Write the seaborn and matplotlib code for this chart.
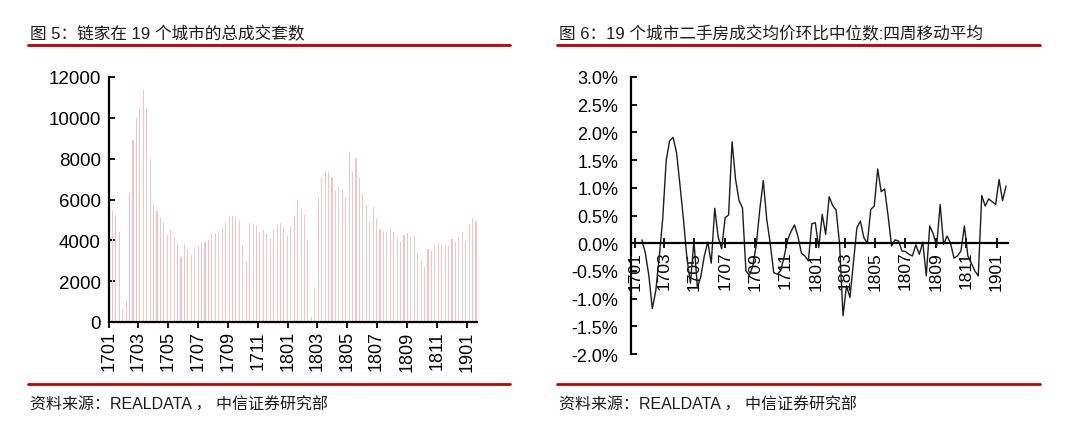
import numpy as np
import pandas as pd
import matplotlib
matplotlib.use("Agg")
import matplotlib.pyplot as plt
from matplotlib.lines import Line2D
from matplotlib.ticker import FuncFormatter
import seaborn as sns

# ---------------- data ----------------
deals = [5450, 5250, 4430, 650, 1080, 6320, 8890, 9980, 10490, 11340,
         10410, 7990, 5780, 5450, 5160, 4840, 4260, 4500, 4170, 3860,
         3160, 3810, 3570, 3270, 3570, 3700, 3940, 3940, 4030, 4300,
         4340, 4340, 4660, 4840, 5200, 5200, 5120, 4990, 3760, 3000,
         4830, 4800, 4680, 4430, 4500, 4300, 4060, 4550, 4800, 4840,
         4630, 4220, 4710, 5200, 5970, 5530, 5240, 4030, 260, 1690,
         6060, 7040, 7410, 7330, 7090, 6480, 6600, 6480, 6100, 8350,
         7360, 8020, 7120, 6270, 5730, 4910, 5610, 5040, 4550, 4470,
         4430, 4600, 4420, 4090, 3900, 4260, 4350, 4090, 4190, 3360,
         3110, 2670, 3600, 3490, 3760, 3860, 3760, 3700, 3700, 4060,
         3900, 4140, 4420, 3900, 4800, 5090, 4960]

mom = [0.06, -0.18, -0.58, -1.18, -0.86, -0.25, 0.44, 1.49, 1.85, 1.91,
       1.63, 1.04, 0.42, -0.28, -0.72, 0.04, -0.80, -0.60, -0.23, 0.02,
       -0.36, 0.63, 0.11, -0.10, 0.46, 0.51, 1.83, 1.16, 0.77, 0.64,
       -0.50, -0.58, -0.41, -0.02, 0.61, 1.13, 0.43, 0.00, -0.53, -0.56,
       -0.50, -0.25, 0.06, 0.21, 0.33, 0.12, -0.18, -0.23, -0.32, 0.35,
       0.37, -0.08, 0.52, 0.16, 0.84, 0.68, 0.60, -0.01, -1.31, -0.77,
       -0.98, -0.35, 0.28, 0.40, 0.10, 0.00, 0.61, 0.67, 1.34, 0.93,
       0.98, 0.49, -0.05, 0.06, 0.04, -0.14, -0.15, -0.20, -0.23, -0.03,
       -0.20, 0.02, -0.59, 0.31, 0.17, -0.05, 0.70, -0.02, 0.13, 0.00,
       -0.27, -0.23, -0.14, 0.31, -0.23, -0.36, -0.50, -0.59, 0.86, 0.67,
       0.80, 0.75, 0.70, 1.15, 0.77, 1.03]

tick_labels = ["1701", "1703", "1705", "1707", "1709", "1711", "1801",
               "1803", "1805", "1807", "1809", "1811", "1901"]

deal_yticks = [0, 2000, 4000, 6000, 8000, 10000, 12000]
mom_yticks = [-2.0, -1.5, -1.0, -0.5, 0.0, 0.5, 1.0, 1.5, 2.0, 2.5, 3.0]

left_title = "图 5：链家在 19 个城市的总成交套数"
right_title = "图 6：19 个城市二手房成交均价环比中位数:四周移动平均"
source_text = "资料来源：REALDATA ， 中信证券研究部"

# ---------------- positions from dates ----------------
origin = pd.Timestamp("2017-01-01")
deal_dates = pd.date_range("2017-01-08", periods=len(deals), freq="7D")
mom_dates = pd.date_range("2017-01-15", periods=len(mom), freq="7D")
deal_x = np.asarray((deal_dates - origin).days, dtype=float)
mom_x = np.asarray((mom_dates - origin).days, dtype=float)
tick_x = [(pd.Timestamp(f"20{t[:2]}-{t[2:]}-01") - origin).days for t in tick_labels]

# ---------------- style ----------------
sns.set_theme(style="ticks")
plt.rcParams["font.family"] = ["Liberation Sans", "Noto Sans CJK SC", "DejaVu Sans"]
plt.rcParams["axes.unicode_minus"] = False

W, H = 1080, 435
fig = plt.figure(figsize=(W / 100, H / 100), dpi=100)
fig.patch.set_facecolor("white")


def px_axes(x0, y_top, x1, y_bot):
    return fig.add_axes([x0 / W, 1 - y_bot / H, (x1 - x0) / W, (y_bot - y_top) / H])


axL = px_axes(109, 78, 477, 323)
axR = px_axes(631, 78, 1008, 355)

# left: bars
df_l = pd.DataFrame({"x": deal_x, "y": deals})
sns.barplot(data=df_l, x="x", y="y", native_scale=True, color="#F3C2C6",
            saturation=1, width=0.32, errorbar=None, linewidth=0,
            edgecolor="none", ax=axL)
axL.set_xlim(0, 751)
axL.set_ylim(0, 12000)
axL.set_yticks(deal_yticks)
axL.set_yticklabels([str(v) for v in deal_yticks])
axL.set_xticks(tick_x)
axL.set_xticklabels(tick_labels)
axL.tick_params(axis="y", direction="in", length=4, width=1.3, labelsize=13.5,
                pad=6, colors="black")
axL.tick_params(axis="x", direction="out", length=4, width=1.3, labelsize=13,
                pad=2, colors="black", labelrotation=90)

# right: line
df_r = pd.DataFrame({"x": mom_x, "y": mom})
sns.lineplot(data=df_r, x="x", y="y", color="#1c1c1c", linewidth=1.0, ax=axR)
axR.spines["bottom"].set_position(("data", 0))
axR.set_xlim(-8, 753)
axR.set_ylim(-2.0, 3.0)
axR.set_yticks(mom_yticks)
axR.yaxis.set_major_formatter(FuncFormatter(lambda v, p: f"{v:.1f}%"))
axR.set_xticks(tick_x)
axR.set_xticklabels(tick_labels)
axR.tick_params(axis="y", direction="in", length=4, width=1.3, labelsize=13,
                pad=9, colors="black")
axR.tick_params(axis="x", direction="inout", length=7, width=1.3, labelsize=12.5,
                pad=2, colors="black", labelrotation=90)

for ax in (axL, axR):
    ax.set_xlabel("")
    ax.set_ylabel("")
    ax.set_facecolor("white")
    ax.grid(False)
    for s in ("top", "right"):
        ax.spines[s].set_visible(False)
    for s in ("left", "bottom"):
        ax.spines[s].set_linewidth(1.6)
        ax.spines[s].set_color("black")

# titles, rules and sources
red = "#C00000"
for (x0, x1, tx) in ((28, 510, left_title), (557, 1040, right_title)):
    fig.text(x0 / W + 2 / W, 1 - 34 / H, tx, fontsize=12, color="#1a1a1a",
             ha="left", va="center", fontweight="medium")
    fig.add_artist(Line2D([x0 / W, x1 / W], [1 - 46 / H] * 2, color=red,
                          linewidth=2.0, transform=fig.transFigure))
    fig.add_artist(Line2D([x0 / W, x1 / W], [1 - 385 / H] * 2, color=red,
                          linewidth=2.0, transform=fig.transFigure))
    fig.text(x0 / W + 2 / W, 1 - 405 / H, source_text, fontsize=11.5,
             color="#1a1a1a", ha="left", va="center")

fig.savefig("out.png", dpi=100, facecolor="white")
